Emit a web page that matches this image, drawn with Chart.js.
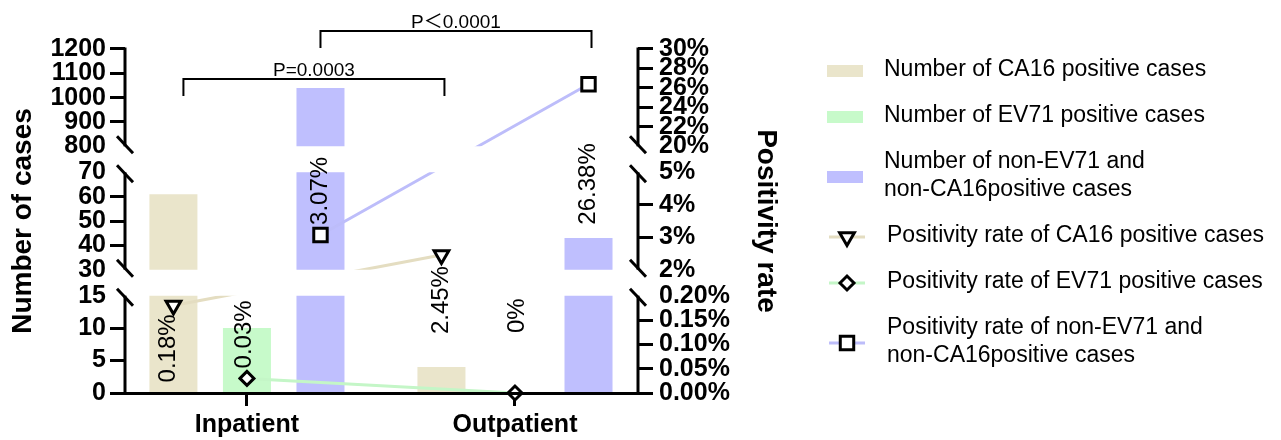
<!DOCTYPE html>
<html>
<head>
<meta charset="utf-8">
<title>Positive cases and positivity rate</title>
<script src="https://cdn.jsdelivr.net/npm/chart.js@4/dist/chart.umd.min.js"></script>
<style>
  html, body { margin: 0; padding: 0; background: #fff; }
  #wrap { width: 1281px; height: 440px; }
</style>
</head>
<body>
<div id="wrap"><canvas id="chart" width="1281" height="440"></canvas></div>
<script>
// ---- data ----
const categories = ['Inpatient', 'Outpatient'];
const ca16Cases  = [61, 4];
const ev71Cases  = [10, 0];
const otherCases = [1040, 43];
const ca16Rate   = [0.18, 2.45];   // %
const ev71Rate   = [0.03, 0];      // %
const otherRate  = [3.07, 26.38];  // %

// broken axes: visible value ranges, bottom to top
const caseSegments = [[0, 15], [30, 70], [800, 1200]];
const rateSegments = [[0, 0.2], [2, 5], [20, 30]];
const caseTicks = [0, 5, 10, 15, 30, 40, 50, 60, 70, 800, 900, 1000, 1100, 1200];
const rateTicks = [0, 0.05, 0.1, 0.15, 0.2, 2, 3, 4, 5, 20, 22, 24, 26, 28, 30];
const rateTickLabels = ['0.00%', '0.05%', '0.10%', '0.15%', '0.20%', '2%', '3%', '4%', '5%',
                        '20%', '22%', '24%', '26%', '28%', '30%'];

const seriesLabels = [
  'Number of CA16 positive cases',
  'Number of EV71 positive cases',
  'Number of non-EV71 and\nnon-CA16positive cases',
  'Positivity rate of CA16 positive cases',
  'Positivity rate of EV71 positive cases',
  'Positivity rate of non-EV71 and\nnon-CA16positive cases'
];

// each rate series sits over the bar of the same virus group: [line dataset, bar dataset]
const rateOverBar = [[3, 0], [4, 1], [5, 2]];

// significance brackets: [bar series, category] at each end
const significance = [
  { text: 'P=0.0003', from: [0, 0], to: [0, 1] },
  { text: 'P\uFF1C0.0001', from: [2, 0], to: [2, 1] }
];

// ---- styling ----
const FONT = "'Liberation Sans', Arial, Helvetica, sans-serif";
const TAN = '#EAE5CB', GREEN = '#C7FACA', BLUE = '#BFBFFE';
const TAN_LINE = '#E4DDC1', GREEN_LINE = '#C4F6C7', BLUE_LINE = '#BDBDFA';

const bracketStyle = [
  { y: 79, leg: 17, dx: [10, 3] },
  { y: 31, leg: 17, dx: [0, 3] }
];
// placement of the rotated rate labels next to each marker (per line series, per category)
const rateLabelPlacement = [
  [{ dx: -5, dy: 9, align: 'right' }, { dx: 0, dy: 11, align: 'right' }],
  [{ dx: -3, dy: -10, align: 'left' }, { dx: 2, dy: -60, align: 'left' }],
  [{ dx: 0, dy: -10, align: 'left' }, { dx: 0, dy: 59, align: 'right' }]
];
const LEGEND = { swatchX: 827, swatchW: 36, swatchH: 12, lineX0: 829, lineX1: 865, markerX: 847,
                 barTextX: 884, lineTextX: 887, top: 48, lineHeight: 28, rowGap: 18, font: 23 };

// ---- a linear scale split into separate value bands ----
class BrokenAxis extends Chart.LinearScale {
  static id = 'brokenAxis';

  determineDataLimits() {
    const segs = this.options.segments;
    this.min = segs[0][0];
    this.max = segs[segs.length - 1][1];
  }

  buildTicks() {
    this.start = this.min;
    this.end = this.max;
    return this.options.tickValues.map(value => ({ value }));
  }

  segmentBands() {
    const segs = this.options.segments;
    const n = segs.length;
    const H = this.bottom - this.top;
    const gap = H * this.options.gapRatio;
    const segH = (H - gap * (n - 1)) / n;
    return segs.map((s, i) => {
      const bottom = this.bottom - i * (segH + gap);
      return { lo: s[0], hi: s[1], bottom, top: bottom - segH };
    });
  }

  isBreak(value) {
    const segs = this.options.segments;
    return segs.some((s, i) => (i > 0 && s[0] === value) || (i < segs.length - 1 && s[1] === value));
  }

  getPixelForValue(value) {
    if (value === null || value === undefined || isNaN(value)) return NaN;
    const bands = this.segmentBands();
    for (let i = 0; i < bands.length; i++) {
      const b = bands[i];
      if (value <= b.hi || i === bands.length - 1) {
        if (value < b.lo && i > 0) {
          const prev = bands[i - 1];
          const t = (value - prev.hi) / (b.lo - prev.hi);
          return prev.top + (b.bottom - prev.top) * t;
        }
        return b.bottom - (value - b.lo) / (b.hi - b.lo) * (b.bottom - b.top);
      }
    }
    return NaN;
  }

  getValueForPixel(pixel) {
    const bands = this.segmentBands();
    for (let i = 0; i < bands.length; i++) {
      const b = bands[i];
      if (pixel >= b.top || i === bands.length - 1) {
        if (pixel > b.bottom && i > 0) {
          const prev = bands[i - 1];
          const t = (pixel - prev.top) / (b.bottom - prev.top);
          return prev.hi + (b.lo - prev.hi) * t;
        }
        return b.lo + (b.bottom - pixel) / (b.bottom - b.top) * (b.hi - b.lo);
      }
    }
    return NaN;
  }

  // axis line drawn band by band, with break marks at every gap
  drawBorder() {
    const ctx = this.ctx;
    const x = this.options.position === 'left' ? this.right : this.left;
    const bands = this.segmentBands();
    const n = bands.length;
    ctx.save();
    ctx.strokeStyle = '#000';
    ctx.lineWidth = 3;
    ctx.lineCap = 'butt';
    bands.forEach((b, i) => {
      const y0 = i === 0 ? b.bottom + 1.5 : b.bottom;
      const y1 = i === n - 1 ? b.top - 1.5 : b.top;
      ctx.beginPath();
      ctx.moveTo(x, y0);
      ctx.lineTo(x, y1);
      ctx.stroke();
      const marks = [];
      if (i > 0) marks.push(b.bottom - 1.5);
      if (i < n - 1) marks.push(b.top + 1.5);
      marks.forEach(y => {
        ctx.beginPath();
        ctx.moveTo(x - 8, y - 8.5);
        ctx.lineTo(x + 8, y + 8.5);
        ctx.stroke();
      });
    });
    ctx.restore();
  }
}
Chart.register(BrokenAxis);

// move each rate marker onto the centre of its bar (grouped layout)
const alignRatesToBars = {
  id: 'alignRatesToBars',
  afterDatasetsUpdate(chart) {
    rateOverBar.forEach(([lineIdx, barIdx]) => {
      const bars = chart.getDatasetMeta(barIdx).data;
      const meta = chart.getDatasetMeta(lineIdx);
      meta.data.forEach((pt, i) => { pt.x = bars[i].x; });
      if (meta.dataset) meta.dataset.points = meta.data;
    });
  }
};

// bars and lines only show inside the value bands of their axis
const bandClip = {
  id: 'bandClip',
  beforeDatasetDraw(chart, args) {
    const scale = args.meta.yScale;
    if (!scale || !scale.segmentBands) return;
    const bands = scale.segmentBands();
    const ctx = chart.ctx;
    ctx.save();
    ctx.beginPath();
    bands.forEach((b, i) => {
      const top = i === bands.length - 1 ? 0 : b.top;
      const bottom = i === 0 ? chart.height : b.bottom;
      ctx.rect(0, top, chart.width, bottom - top);
    });
    ctx.clip();
  },
  afterDatasetDraw(chart, args) {
    const scale = args.meta.yScale;
    if (scale && scale.segmentBands) chart.ctx.restore();
  }
};

// rotated rate labels, significance brackets and the legend
const overlay = {
  id: 'overlay',
  afterDraw(chart) {
    const ctx = chart.ctx;

    // rate labels
    ctx.save();
    ctx.fillStyle = '#000';
    ctx.font = `24px ${FONT}`;
    ctx.textBaseline = 'middle';
    rateOverBar.forEach(([dsIndex], s) => {
      const ds = chart.data.datasets[dsIndex];
      chart.getDatasetMeta(dsIndex).data.forEach((pt, i) => {
        const place = rateLabelPlacement[s][i];
        ctx.save();
        ctx.translate(pt.x + place.dx, pt.y + place.dy);
        ctx.rotate(-Math.PI / 2);
        ctx.textAlign = place.align;
        ctx.fillText(`${ds.data[i].y}%`, 0, 0);
        ctx.restore();
      });
    });
    ctx.restore();

    // significance brackets
    ctx.save();
    ctx.strokeStyle = '#000';
    ctx.fillStyle = '#000';
    ctx.lineWidth = 2;
    ctx.font = `19px ${FONT}, 'Noto Sans CJK SC'`;
    ctx.textAlign = 'center';
    ctx.textBaseline = 'alphabetic';
    significance.forEach((sig, k) => {
      const st = bracketStyle[k];
      const x0 = chart.getDatasetMeta(sig.from[0]).data[sig.from[1]].x + st.dx[0];
      const x1 = chart.getDatasetMeta(sig.to[0]).data[sig.to[1]].x + st.dx[1];
      ctx.beginPath();
      ctx.moveTo(x0, st.y + st.leg);
      ctx.lineTo(x0, st.y);
      ctx.lineTo(x1, st.y);
      ctx.lineTo(x1, st.y + st.leg);
      ctx.stroke();
      ctx.fillText(sig.text, (x0 + x1) / 2, st.y - 3);
    });
    ctx.restore();

    // legend
    ctx.save();
    ctx.font = `${LEGEND.font}px ${FONT}`;
    ctx.textBaseline = 'middle';
    ctx.textAlign = 'left';
    let y = LEGEND.top;
    chart.data.datasets.forEach(ds => {
      const lines = ds.label.split('\n');
      const h = lines.length * LEGEND.lineHeight + LEGEND.rowGap;
      const cy = y + h / 2;
      let textX;
      if (ds.type === 'line') {
        ctx.strokeStyle = ds.borderColor;
        ctx.lineWidth = 3;
        ctx.beginPath();
        ctx.moveTo(LEGEND.lineX0, cy);
        ctx.lineTo(LEGEND.lineX1, cy);
        ctx.stroke();
        ctx.fillStyle = '#fff';
        ctx.strokeStyle = '#000';
        ctx.lineWidth = ds.pointBorderWidth;
        Chart.helpers.drawPoint(ctx, {
          pointStyle: ds.pointStyle, rotation: ds.pointRotation || 0,
          radius: ds.pointRadius, borderWidth: ds.pointBorderWidth
        }, LEGEND.markerX, cy);
        textX = LEGEND.lineTextX;
      } else {
        ctx.fillStyle = ds.backgroundColor;
        ctx.fillRect(LEGEND.swatchX, cy - LEGEND.swatchH / 2, LEGEND.swatchW, LEGEND.swatchH);
        textX = LEGEND.barTextX;
      }
      ctx.fillStyle = '#000';
      lines.forEach((line, k) => {
        const ly = cy - (lines.length - 1) * LEGEND.lineHeight / 2 + k * LEGEND.lineHeight;
        ctx.fillText(line, textX, ly - 1);
      });
      y += h;
    });
    ctx.restore();
  }
};

const asPoints = arr => arr.map((v, i) => ({ x: i, y: v }));

const barCommon = { type: 'bar', yAxisID: 'yL', xAxisID: 'x', order: 1, borderWidth: 0,
                    categoryPercentage: 0.823, barPercentage: 0.653 };
const lineCommon = { type: 'line', yAxisID: 'yR', xAxisID: 'x', order: 0, borderWidth: 3,
                     tension: 0, clip: false, pointBorderColor: '#000', pointBackgroundColor: '#fff',
                     pointBorderWidth: 3 };

const tickFont = { family: FONT, size: 25, weight: 'bold' };
const titleFont = { family: FONT, size: 28, weight: 'bold' };

new Chart(document.getElementById('chart'), {
  type: 'bar',
  data: {
    datasets: [
      { ...barCommon, label: seriesLabels[0], data: asPoints(ca16Cases), backgroundColor: TAN },
      { ...barCommon, label: seriesLabels[1], data: asPoints(ev71Cases), backgroundColor: GREEN },
      { ...barCommon, label: seriesLabels[2], data: asPoints(otherCases), backgroundColor: BLUE },
      { ...lineCommon, label: seriesLabels[3], data: asPoints(ca16Rate), borderColor: TAN_LINE,
        pointStyle: 'triangle', pointRotation: 180, pointRadius: 8.5 },
      { ...lineCommon, label: seriesLabels[4], data: asPoints(ev71Rate), borderColor: GREEN_LINE,
        pointStyle: 'rectRot', pointRadius: 7 },
      { ...lineCommon, label: seriesLabels[5], data: asPoints(otherRate), borderColor: BLUE_LINE,
        pointStyle: 'rect', pointRadius: 9.5 }
    ]
  },
  options: {
    responsive: false,
    animation: false,
    devicePixelRatio: 1,
    events: [],
    layout: { padding: { left: 0, top: 49, right: 491, bottom: 0 } },
    plugins: { legend: { display: false }, tooltip: { enabled: false } },
    scales: {
      x: {
        type: 'linear', position: 'bottom', min: -0.455, max: 1.459, offset: false,
        afterBuildTicks: s => { s.ticks = categories.map((c, i) => ({ value: i })); },
        afterFit: s => { s.height = 47; },
        ticks: { autoSkip: false, maxRotation: 0, padding: 4, color: '#000', font: tickFont,
                 callback: v => categories[v] ?? '' },
        grid: { offset: false, drawOnChartArea: false, drawTicks: true, tickLength: 13, tickWidth: 3, tickColor: '#000' },
        border: { display: true, color: '#000', width: 3, z: 1 }
      },
      yL: {
        type: 'brokenAxis', position: 'left', segments: caseSegments, tickValues: caseTicks, gapRatio: 0.0756,
        afterFit: s => { s.width = 125; },
        ticks: { autoSkip: false, padding: 4, color: '#000', font: tickFont, callback: v => String(v) },
        grid: { drawOnChartArea: false, drawTicks: true, tickLength: 15, tickWidth: 3,
                tickColor: c => (c.tick && c.scale.isBreak(c.tick.value)) ? 'rgba(0,0,0,0)' : '#000' },
        border: { display: false, z: 1 },
        title: { display: true, text: 'Number of cases', color: '#000', font: titleFont, padding: { top: 6, bottom: 0 } }
      },
      yR: {
        type: 'brokenAxis', position: 'right', segments: rateSegments, tickValues: rateTicks, gapRatio: 0.0756,
        afterFit: s => { s.width = 152; },
        ticks: { autoSkip: false, padding: 6, color: '#000', font: tickFont, callback: (v, i) => rateTickLabels[i] },
        grid: { drawOnChartArea: false, drawTicks: true, tickLength: 15, tickWidth: 3,
                tickColor: c => (c.tick && c.scale.isBreak(c.tick.value)) ? 'rgba(0,0,0,0)' : '#000' },
        border: { display: false, z: 1 },
        title: { display: true, text: 'Positivity rate', color: '#000', font: titleFont, padding: { top: 7, bottom: 0 } }
      }
    }
  },
  plugins: [alignRatesToBars, bandClip, overlay]
});
</script>
</body>
</html>
